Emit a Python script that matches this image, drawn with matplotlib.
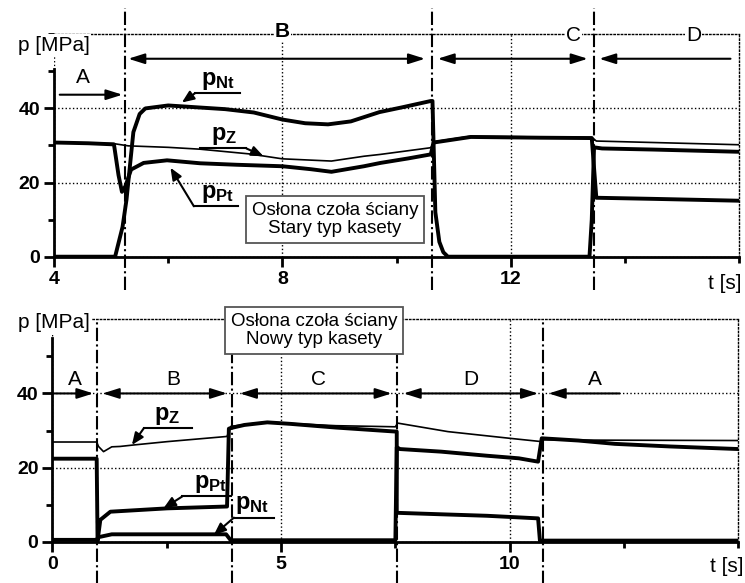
import matplotlib.pyplot as plt
from matplotlib.ticker import MultipleLocator

plt.rcParams['font.family'] = ['Liberation Sans', 'DejaVu Sans']
plt.rcParams['mathtext.fontset'] = 'custom'
plt.rcParams['mathtext.rm'] = 'Liberation Sans'
plt.rcParams['mathtext.bf'] = 'Liberation Sans:bold'
plt.rcParams['mathtext.it'] = 'Liberation Sans:italic'

# ---- top panel: old cassette type (t from 4 to 16 s)
top_nt_t = [4.0, 5.07, 5.2, 5.27, 5.39, 5.5, 5.6, 6.0, 6.5, 7.0, 7.5, 8.0, 8.4, 8.8, 9.2, 9.7,
            10.1, 10.6, 10.63, 10.68, 10.75, 10.82, 10.9, 13.38, 13.42, 13.46, 13.6, 14.5, 15.5, 16.0]
top_nt_p = [0, 0, 8, 15.4, 33.6, 38.5, 40.0, 40.8, 40.3, 39.8, 38.9, 37.0, 36.0, 35.7, 36.5, 39.0,
            40.3, 42.0, 42.0, 12.0, 4.0, 1.2, 0, 0, 10, 29.5, 29.2, 28.9, 28.5, 28.3]

top_pt_t = [4.0, 4.6, 5.05, 5.13, 5.19, 5.25, 5.35, 5.57, 5.98, 6.56, 7.2, 8.0, 8.5, 8.86, 9.43,
            9.72, 10.2, 10.6, 10.65, 11.3, 12.5, 13.42, 13.5, 14.5, 16.0]
top_pt_p = [30.8, 30.6, 30.3, 22.0, 17.5, 19.0, 23.5, 25.3, 26.0, 25.2, 24.8, 24.4, 23.6, 22.9, 24.4,
            25.3, 26.5, 27.6, 30.8, 32.3, 32.1, 32.0, 15.9, 15.6, 15.1]

top_z_t = [4.0, 5.05, 5.3, 6.0, 6.56, 7.44, 8.0, 8.86, 9.43, 9.72, 10.6, 10.65, 11.3, 12.5,
           13.42, 13.5, 14.5, 16.0]
top_z_p = [30.8, 30.5, 29.9, 29.5, 29.0, 27.7, 26.4, 25.8, 27.1, 27.6, 29.4, 31.0, 32.5, 32.3,
           32.2, 31.2, 30.8, 30.2]

top_phase_t = [5.25, 10.63, 13.46]
top_phase_names = ['A', 'B', 'C', 'D']
top_phase_xy = [(4.5, 48.3), (8.0, 60.8), (13.1, 59.6), (15.2, 59.6)]
top_phase_bold = [False, True, False, False]
top_arrows = [(4.1, 5.2, 43.7, '-|>'), (5.3, 10.5, 53.4, '<|-|>'),
              (10.72, 13.35, 53.4, '<|-|>'), (13.55, 15.85, 53.4, '<|-')]

# ---- bottom panel: new cassette type (t from 0 to 15 s)
bot_z_t = [0, 0.97, 1.01, 1.12, 1.3, 1.48, 1.78, 2.51, 3.82, 3.9, 4.2, 4.7, 5.2, 6.2, 7.1, 7.5,
           7.55, 8.65, 10.0, 10.7, 10.75, 12.0, 15.0]
bot_z_p = [26.9, 26.9, 25.7, 24.3, 25.6, 25.7, 26.1, 27.0, 28.4, 31.1, 31.6, 32.3, 31.9, 31.3, 31.1, 31.0,
           32.0, 29.7, 27.9, 27.0, 27.5, 27.4, 27.3]

bot_pt_t = [0, 0.97, 0.99, 1.05, 1.27, 2.51, 3.82, 3.86, 3.95, 4.2, 4.7, 5.2, 6.2, 7.4, 7.53,
            7.53, 8.5, 9.5, 10.62, 10.66, 15.0]
bot_pt_p = [22.4, 22.4, 0.3, 5.9, 8.1, 9.0, 9.5, 30.5, 30.8, 31.5, 32.2, 31.8, 30.8, 29.8, 29.7,
            7.8, 7.4, 7.0, 6.3, 0.3, 0.3]

bot_nt_t = [0, 0.97, 1.0, 1.3, 2.5, 3.8, 3.9, 7.5, 7.53, 7.6, 8.5, 9.5, 10.2, 10.62, 10.7, 11.5,
            12.3, 13.5, 15.0]
bot_nt_p = [0.5, 0.5, 1.2, 2.0, 2.0, 2.0, 0.4, 0.4, 25.5, 25.0, 24.3, 23.2, 22.5, 21.6, 27.9, 27.3,
            26.4, 25.7, 25.0]

bot_phase_t = [0.97, 3.93, 7.53, 10.73]
bot_phase_names = ['A', 'B', 'C', 'D', 'A']
bot_phase_xy = [(0.5, 43.7), (2.65, 43.7), (5.83, 43.7), (9.16, 43.7), (11.86, 43.7)]
bot_phase_bold = [False] * 5
bot_arrows = [(0.0, 0.9, 40, '-|>'), (1.1, 3.82, 40, '<|-|>'), (4.1, 7.42, 40, '<|-|>'),
              (7.68, 10.62, 40, '<|-|>'), (10.85, 12.4, 40, '<|-')]

# series labels: text, text centre x, leader corner, leader end on the curve, leader right end
top_labels = [(r'$\mathbf{p}_{\mathbf{Nt}}$', 6.88, (6.47, 44.1), (6.24, 41.6), 7.26),
              (r'$\mathbf{p}_{\mathbf{Z}}$', 6.98, (7.37, 29.2), (7.67, 27.1), 6.56),
              (r'$\mathbf{p}_{\mathbf{Pt}}$', 6.87, (6.45, 13.6), (6.04, 24.0), 7.23)]
bot_labels = [(r'$\mathbf{p}_{\mathbf{Z}}$', 2.5, (2.0, 30.6), (1.74, 26.1), 3.06),
              (r'$\mathbf{p}_{\mathbf{Pt}}$', 3.45, (2.84, 12.2), (2.43, 9.0), 3.9),
              (r'$\mathbf{p}_{\mathbf{Nt}}$', 4.37, (3.97, 6.5), (3.53, 1.8), 4.85)]


def style_axes(ax, xmin, xmax, xmajor, xminor, spine_top, xticks):
    ax.set_xlim(xmin, xmax)
    ax.set_ylim(0, 60)
    ax.xaxis.set_major_locator(MultipleLocator(xmajor))
    ax.xaxis.set_minor_locator(MultipleLocator(xminor))
    ax.yaxis.set_major_locator(MultipleLocator(20))
    ax.yaxis.set_minor_locator(MultipleLocator(10))
    ax.grid(True, which='major', color='black', linestyle=':', linewidth=1.0)
    for s in ['top', 'right']:
        ax.spines[s].set_linestyle(':')
        ax.spines[s].set_linewidth(1.0)
    for s in ['left', 'bottom']:
        ax.spines[s].set_linewidth(2.0)
    ax.spines['left'].set_bounds(0, spine_top)
    ax.tick_params(which='major', direction='out', length=7, width=2, pad=3, labelsize=14)
    ax.tick_params(which='minor', direction='out', length=4, width=2)
    ax.set_xticks(xticks)
    ax.set_yticks([0, 20, 40])
    for lab in ax.get_xticklabels() + ax.get_yticklabels():
        lab.set_fontweight('bold')


def draw_panel(ax, series, phase_t, ph_lo, ph_hi, names, name_xy, bold, arrows, labels):
    for t, p, lw in series:
        ax.plot(t, p, color='black', linewidth=lw, zorder=3)
    for x in phase_t:
        ax.axvline(x, ymin=ph_lo, ymax=ph_hi, color='black', linestyle='-.',
                   linewidth=1.5, clip_on=False, zorder=2)
    for (x, y), name, b in zip(name_xy, names, bold):
        ax.text(x, y, name, ha='center', va='center', fontsize=15, zorder=4,
                fontweight='bold' if b else 'normal',
                bbox=dict(boxstyle='square,pad=0.05', fc='white', ec='none'))
    for x0, x1, y, st in arrows:
        ax.annotate('', xy=(x1, y), xytext=(x0, y), zorder=4,
                    arrowprops=dict(arrowstyle=st + ',head_length=0.7,head_width=0.22',
                                    color='black', lw=1.5, shrinkA=0, shrinkB=0,
                                    mutation_scale=14))
    for txt, tx, corner, end, xr in labels:
        ax.plot([corner[0], xr], [corner[1], corner[1]], color='black', lw=1.5, zorder=4)
        ax.annotate('', xy=end, xytext=corner, zorder=4,
                    arrowprops=dict(arrowstyle='-|>,head_length=0.6,head_width=0.25',
                                    color='black', lw=1.5, shrinkA=0, shrinkB=0,
                                    mutation_scale=12))
        ax.text(tx, corner[1] + 0.4, txt, ha='center', va='bottom', fontsize=17, zorder=5)


fig = plt.figure(figsize=(7.45, 5.83), dpi=100)
ax1 = fig.add_axes([0.0725, 0.5597, 0.9195, 0.3815])
ax2 = fig.add_axes([0.0702, 0.0708, 0.921, 0.3815])

style_axes(ax1, 4, 16, 4, 2, 50.6, [4, 8, 12])
style_axes(ax2, 0, 15, 5, 2.5, 55, [0, 5, 10])

draw_panel(ax1, [(top_nt_t, top_nt_p, 2.8), (top_pt_t, top_pt_p, 2.8), (top_z_t, top_z_p, 1.2)],
           top_phase_t, -0.15, 1.12, top_phase_names, top_phase_xy, top_phase_bold,
           top_arrows, top_labels)
draw_panel(ax2, [(bot_nt_t, bot_nt_p, 2.8), (bot_pt_t, bot_pt_p, 2.8), (bot_z_t, bot_z_p, 1.2)],
           bot_phase_t, -0.19, 0.99, bot_phase_names, bot_phase_xy, bot_phase_bold,
           bot_arrows, bot_labels)

box = dict(boxstyle='square,pad=0.3', fc='white', ec='#555555', lw=1.3)
ax1.text(8.92, 10.0, 'Osłona czoła ściany\nStary typ kasety', ha='center', va='center',
         fontsize=13.5, bbox=box, zorder=6, linespacing=1.1)
ax2.text(5.72, 57.0, 'Osłona czoła ściany\nNowy typ kasety', ha='center', va='center',
         fontsize=13.5, bbox=box, zorder=6, clip_on=False, linespacing=1.1)

ax1.text(3.99, 56.9, 'p [MPa]', ha='center', va='center', fontsize=15, clip_on=False,
         bbox=dict(boxstyle='square,pad=0.1', fc='white', ec='none'), zorder=6)
ax2.text(0.03, 59.1, 'p [MPa]', ha='center', va='center', fontsize=15, clip_on=False,
         bbox=dict(boxstyle='square,pad=0.1', fc='white', ec='none'), zorder=6)
ax1.text(15.75, -7.2, 't [s]', ha='center', va='center', fontsize=15, clip_on=False)
ax2.text(14.75, -6.8, 't [s]', ha='center', va='center', fontsize=15, clip_on=False)

fig.savefig('out.png', dpi=100)
